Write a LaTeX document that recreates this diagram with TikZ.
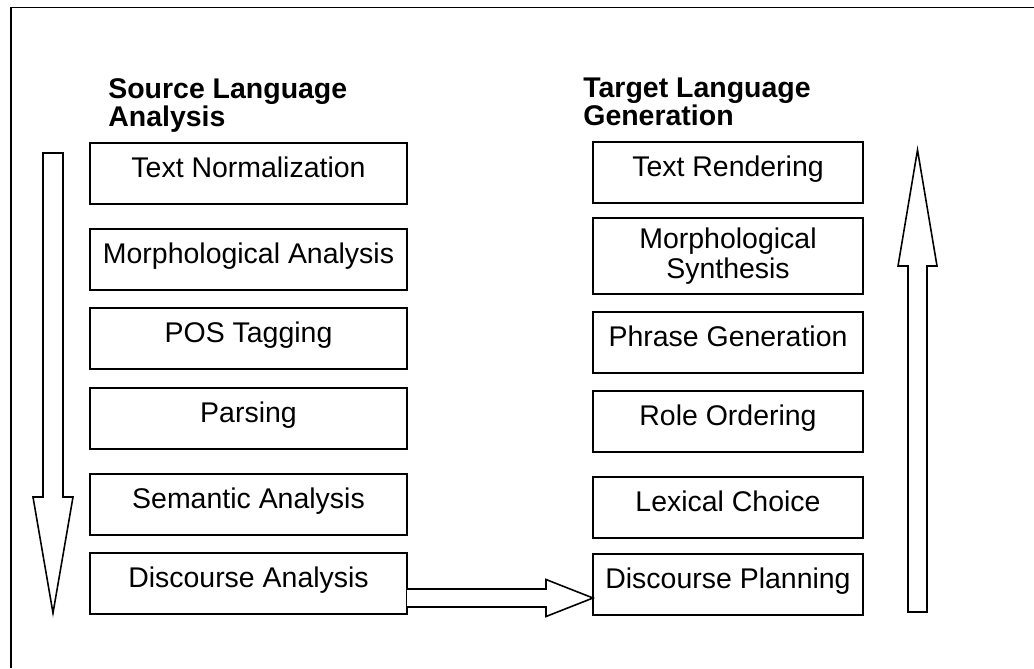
\documentclass[tikz,border=0pt]{standalone}
\usepackage{fontspec}
\setmainfont{Liberation Sans}
\usetikzlibrary{positioning, calc}

\begin{document}
\begin{tikzpicture}[
    node distance=0.36cm,
    stage/.style={rectangle, draw=black, line width=0.9pt, outer sep=0pt, inner xsep=2pt, inner ysep=0pt, align=center, font=\fontsize{16.2}{17}\selectfont},
    srcbox/.style={stage, minimum width=6.34cm, text height=0.68cm, text depth=0.54cm},
    tgtbox/.style={stage, minimum width=5.4cm, text height=0.68cm, text depth=0.54cm},
    head/.style={anchor=north west, inner sep=0pt, align=left, font=\fontsize{16.2}{15.9}\selectfont\bfseries},
    hollow/.style={draw=black, line width=0.9pt, fill=white, line join=miter}
]
\useasboundingbox (0,0) rectangle (20.68,-13.36);
\draw[line width=1.1pt] (0.22,-13.36) -- (0.22,-0.15) -- (20.68,-0.15);

\node[head] (srchead) at (2.16,-1.56) {Source Language\\Analysis};
\node[head] (tgthead) at (11.66,-1.56) {Target Language\\Generation};

% analysis side
\node[srcbox, anchor=north] (tn) at (4.97,-2.86) {Text Normalization};
\node[srcbox, below=0.5cm of tn] (ma) {Morphological Analysis};
\node[srcbox, below=of ma] (pos) {POS Tagging};
\node[srcbox, below=0.38cm of pos] (par) {Parsing};
\node[srcbox, below=0.5cm of par] (sa) {Semantic Analysis};
\node[srcbox, below=of sa] (da) {Discourse Analysis};

% generation side
\node[tgtbox, anchor=north] (tr) at (14.56,-2.84) {Text Rendering};
\node[stage, minimum width=5.4cm, minimum height=1.52cm, below=0.3cm of tr] (ms) {Morphological\\Synthesis};
\node[tgtbox, below=of ms] (pg) {Phrase Generation};
\node[tgtbox, below=of pg] (ro) {Role Ordering};
\node[tgtbox, below=0.5cm of ro] (lc) {Lexical Choice};
\node[tgtbox, below=0.32cm of lc] (dp) {Discourse Planning};

% down arrow
\draw[hollow] (0.86,-3.06) -- (1.26,-3.06) -- (1.26,-9.94) -- (1.46,-9.94) -- (1.06,-12.26)
    -- (0.66,-9.94) -- (0.86,-9.94) -- cycle;
% up arrow
\draw[hollow] (18.16,-12.24) -- (18.54,-12.24) -- (18.54,-5.32) -- (18.74,-5.32) -- (18.35,-3.0)
    -- (17.96,-5.32) -- (18.16,-5.32) -- cycle;

% hand-over arrow
\coordinate (hs) at ($(da.east)+(0,-0.29)$);
\coordinate (ht) at (dp.west |- hs);
\draw[hollow] ($(hs)+(0,0.18)$) -- ($(ht)+(-0.94,0.18)$) -- ($(ht)+(-0.94,0.37)$) -- (ht)
    -- ($(ht)+(-0.94,-0.37)$) -- ($(ht)+(-0.94,-0.18)$) -- ($(hs)+(0,-0.18)$);

\end{tikzpicture}
\end{document}
